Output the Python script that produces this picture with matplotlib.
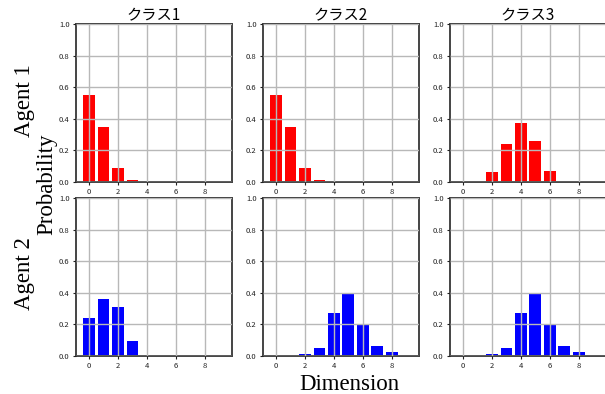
import matplotlib
matplotlib.use("Agg")
import matplotlib.pyplot as plt
import numpy as np

plt.rcParams['font.family'] = ['Noto Sans CJK JP', 'DejaVu Sans']

dims = np.arange(10)
classes = ["クラス1", "クラス2", "クラス3"]
agents = ["Agent 1", "Agent 2"]
colors = ["red", "blue"]

# probabilities per agent, per class
agent1 = [
    [0.55, 0.35, 0.09, 0.013, 0.002, 0.001, 0.001, 0.001, 0.001, 0.001],
    [0.55, 0.35, 0.09, 0.013, 0.002, 0.001, 0.001, 0.001, 0.001, 0.001],
    [0.002, 0.002, 0.063, 0.24, 0.375, 0.26, 0.07, 0.002, 0.002, 0.002],
]
agent2 = [
    [0.24, 0.36, 0.31, 0.095, 0.003, 0.002, 0.002, 0.002, 0.002, 0.002],
    [0.003, 0.003, 0.012, 0.05, 0.27, 0.39, 0.197, 0.063, 0.025, 0.003],
    [0.003, 0.003, 0.012, 0.05, 0.27, 0.39, 0.197, 0.063, 0.025, 0.003],
]
data = [agent1, agent2]

fig = plt.figure(figsize=(6.05, 3.94), dpi=100)
lefts = [0.1256, 0.4347, 0.7438]
bottoms = [0.538, 0.0964]
w, h = 0.258, 0.401

for r in range(2):
    for c in range(3):
        ax = fig.add_axes([lefts[c], bottoms[r], w, h])
        ax.bar(dims, data[r][c], color=colors[r], width=0.8)
        ax.set_ylim(0, 1.0)
        ax.set_xticks([0, 2, 4, 6, 8])
        ax.set_yticks(np.arange(0, 1.01, 0.2))
        ax.set_yticklabels([f"{v:.1f}" for v in np.arange(0, 1.01, 0.2)])
        ax.grid(True, color="#b8b8b8", linewidth=1.0)
        ax.set_axisbelow(False)
        ax.tick_params(labelsize=5.5, length=2.5, width=0.8, colors="#222222", pad=2)
        for s in ax.spines.values():
            s.set_color("#444444")
            s.set_linewidth(1.4)
        if r == 0:
            ax.set_title(classes[c], fontsize=11, pad=2)

fig.text(0.04, 0.745, agents[0], rotation=90, ha="center", va="center",
         fontsize=16.5, family="Liberation Serif")
fig.text(0.04, 0.305, agents[1], rotation=90, ha="center", va="center",
         fontsize=16.5, family="Liberation Serif")
fig.text(0.078, 0.532, "Probability", rotation=90, ha="center", va="center",
         fontsize=16.5, family="Liberation Serif")
fig.text(0.578, 0.025, "Dimension", ha="center", va="center",
         fontsize=16.5, family="Liberation Serif")

fig.savefig("out.png", dpi=100)
